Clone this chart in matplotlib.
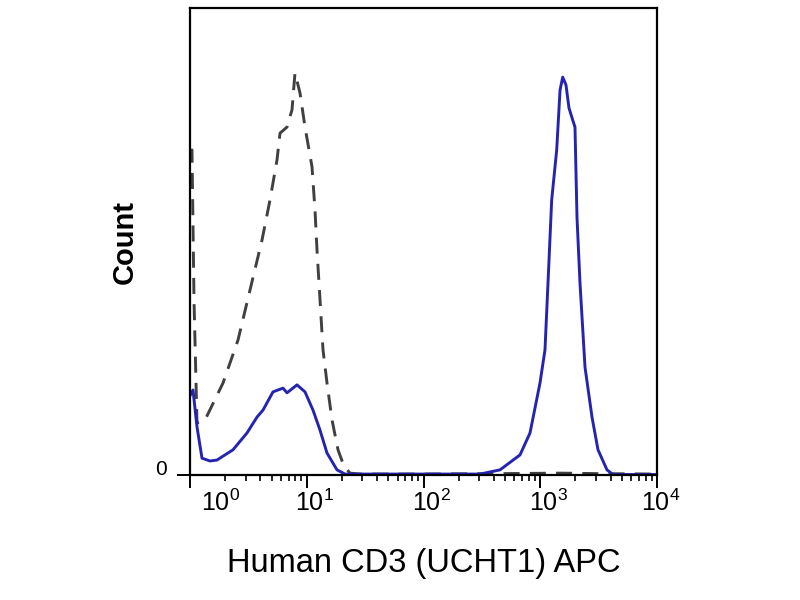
import matplotlib
matplotlib.use('Agg')
import matplotlib.pyplot as plt
from matplotlib.ticker import LogLocator, NullFormatter, FixedLocator
from matplotlib.transforms import ScaledTranslation
import numpy as np

plt.rcParams['font.family'] = ['Liberation Sans', 'DejaVu Sans']
plt.rcParams['mathtext.fontset'] = 'custom'
plt.rcParams['mathtext.rm'] = 'Liberation Sans'
plt.rcParams['mathtext.it'] = 'Liberation Sans:italic'
plt.rcParams['mathtext.bf'] = 'Liberation Sans:bold'

# Isotype control (dashed grey) : fluorescence intensity vs normalised count
iso_x = [1.005, 1.040, 1.082, 1.148, 1.345, 1.918, 2.577, 3.265, 4.137, 4.845,
         5.563, 5.901, 6.774, 7.476, 7.932, 8.754, 9.661, 11.09, 11.77, 12.24,
         12.99, 13.78, 14.91, 16.46, 18.52, 20.84, 23.47, 28.58, 100, 500,
         1500, 3000, 10000]
iso_y = [69.0, 69.6, 37.5, 11.1, 11.8, 19.7, 28.9, 39.6, 50.3, 58.9,
         67.5, 73.2, 74.5, 78.2, 86.1, 81.8, 74.5, 66.0, 56.7, 48.2,
         37.5, 26.8, 19.7, 11.8, 5.4, 1.9, 0.4, 0.2, 0.2, 0.3,
         0.4, 0.3, 0.2]

# Human CD3 (UCHT1) APC stained (solid blue)
cd3_x = [1.005, 1.061, 1.148, 1.267, 1.483, 1.703, 2.335, 3.077, 3.749, 4.220,
         5.139, 6.259, 6.774, 8.250, 9.661, 11.31, 12.99, 14.91, 18.16, 21.26,
         304.8, 452, 671, 817, 995, 1098, 1165, 1253, 1383, 1477,
         1557, 1662, 1762, 1897, 1984, 2064, 2190, 2417, 2775, 3123,
         3730, 4198, 10000]
cd3_y = [17.1, 18.2, 10.3, 3.6, 3.0, 3.2, 5.4, 9.0, 12.4, 13.9,
         17.8, 18.6, 17.6, 19.3, 17.8, 13.9, 9.6, 4.7, 1.1, 0.2,
         0.2, 1.1, 4.3, 9.0, 19.7, 26.8, 41.1, 58.9, 69.6, 82.4,
         85.2, 83.5, 78.6, 76.0, 74.5, 55.2, 41.1, 23.1, 12.4, 5.4,
         1.1, 0.1, 0.1]

x_ticks = [1, 10, 100, 1000, 10000]
x_ticklabels = [r'$10^{0}$', r'$10^{1}$', r'$10^{2}$', r'$10^{3}$', r'$10^{4}$']
y_ticks = [0]
y_ticklabels = ['0']

fig = plt.figure(figsize=(8, 6), dpi=100)
ax = fig.add_axes([190 / 800, 125 / 600, 467 / 800, 467 / 600])

ax.plot(iso_x, iso_y, color='#404040', lw=2.1, linestyle=(0, (5.5, 3.5)),
        solid_joinstyle='round')
ax.plot(cd3_x, cd3_y, color='#2424b0', lw=2.1, solid_joinstyle='round')

ax.set_xscale('log')
ax.set_xlim(1, 10000)
ax.set_ylim(0, 100)

ax.xaxis.set_major_locator(FixedLocator(x_ticks))
ax.set_xticklabels(x_ticklabels)
ax.xaxis.set_minor_locator(LogLocator(base=10, subs=np.arange(2, 10)))
ax.xaxis.set_minor_formatter(NullFormatter())
ax.set_yticks(y_ticks)
ax.set_yticklabels(y_ticklabels)

for s in ax.spines.values():
    s.set_linewidth(1.6)
    s.set_color('black')

ax.tick_params(axis='x', which='major', direction='out', length=9.4, width=1.4,
               labelsize=18, pad=1)
ax.tick_params(axis='x', which='minor', direction='out', length=4.3, width=1.2)
ax.tick_params(axis='y', which='major', direction='out', length=9.4, width=1.4,
               labelsize=15, pad=7)
for lab in ax.get_yticklabels():
    lab.set_verticalalignment('baseline')

offsets = [31, 8, 8, 8, 4]
for lab, dx in zip(ax.get_xticklabels(), offsets):
    lab.set_transform(lab.get_transform() + ScaledTranslation(dx / 100, 0, fig.dpi_scale_trans))

ax.set_xlabel('Human CD3 (UCHT1) APC', fontsize=23.5, va='baseline')
ax.xaxis.set_label_coords(0.5, (475 - 572) / 467)
ax.set_ylabel('Count', fontsize=21, fontweight='bold', va='center', ha='center')
ax.yaxis.set_label_coords((125 - 190) / 467, 0.5)

fig.savefig('out.png', dpi=100)
